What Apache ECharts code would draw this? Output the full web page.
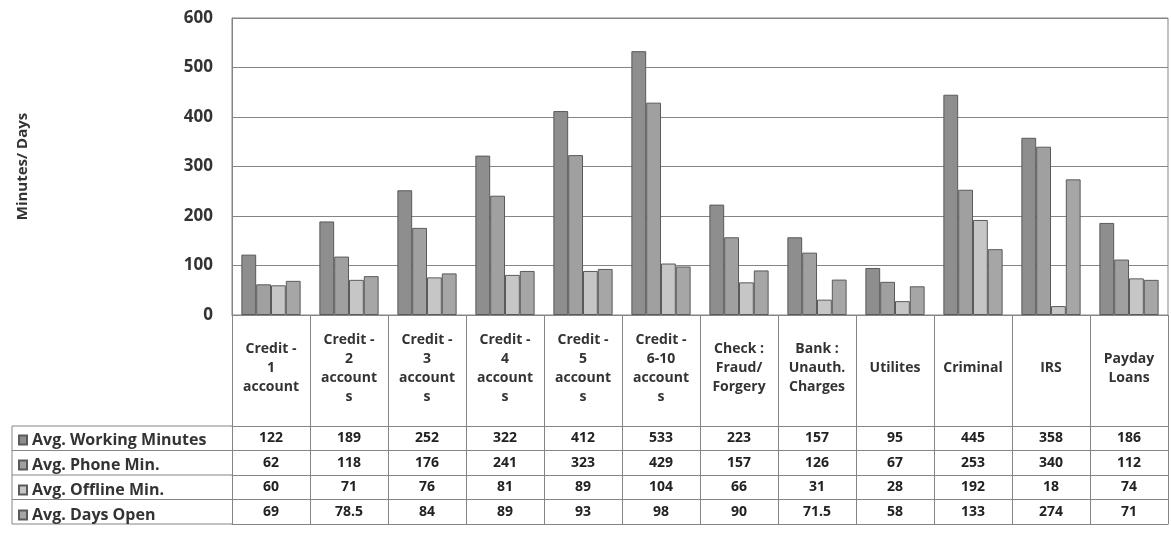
<!DOCTYPE html>
<html>
<head>
<meta charset="utf-8">
<script src="https://cdn.jsdelivr.net/npm/echarts@6/dist/echarts.min.js"></script>
<style>html,body{margin:0;padding:0;background:#fff}#c{width:1171px;height:551px}</style>
</head>
<body>
<div id="c"></div>
<script>
// ---- data ----
var categories = ["Credit -\n1\naccount", "Credit -\n2\naccount\ns", "Credit -\n3\naccount\ns", "Credit -\n4\naccount\ns", "Credit -\n5\naccount\ns", "Credit -\n6-10\naccount\ns", "Check :\nFraud/\nForgery", "Bank :\nUnauth.\nCharges", "Utilites", "Criminal", "IRS", "Payday\nLoans"];
var seriesNames = ["Avg. Working Minutes", "Avg. Phone Min.", "Avg. Offline Min.", "Avg. Days Open"];
var workingMin = [122, 189, 252, 322, 412, 533, 223, 157, 95, 445, 358, 186];
var phoneMin = [62, 118, 176, 241, 323, 429, 157, 126, 67, 253, 340, 112];
var offlineMin = [60, 71, 76, 81, 89, 104, 66, 31, 28, 192, 18, 74];
var daysOpen = [69, 78.5, 84, 89, 93, 98, 90, 71.5, 58, 133, 274, 71];
var yTicks = [0, 100, 200, 300, 400, 500, 600];

// ---- layout ----
var W = 1171, H = 551;
var gLeft = 232, gRight = 3, gTop = 18, gBottomY = 315;
var headerBottom = 426, rowH = 24.5, tableLeft = 12;
var font = 'Open Sans';
var lineCol = '#858585';
var colors = ['#8e8e8e', '#a0a0a0', '#c6c6c6', '#a6a6a6'];
var allSeries = [workingMin, phoneMin, offlineMin, daysOpen];

var xAxes = [{
  type: 'category', data: categories, gridIndex: 0, position: 'bottom',
  axisLine: {show: true, lineStyle: {color: lineCol}},
  axisTick: {show: true, interval: 0, length: headerBottom + rowH * 4 - gBottomY, lineStyle: {color: lineCol}},
  axisLabel: {interval: 0, margin: (headerBottom - gBottomY) / 2 - 2, verticalAlign: 'middle', align: 'center',
    fontFamily: font, fontWeight: 'bold', fontSize: 14, color: '#333', lineHeight: 19}
}];
for (var r = 0; r <= 4; r++) {
  xAxes.push({
    type: 'category', gridIndex: 0, position: 'bottom',
    offset: headerBottom - gBottomY + rowH * r,
    data: r < 4 ? allSeries[r].map(String) : categories.map(function(){return '';}),
    axisLine: {show: true, lineStyle: {color: lineCol}},
    axisTick: {show: false},
    axisLabel: {show: r < 4, interval: 0, margin: rowH / 2, verticalAlign: 'middle',
      fontFamily: font, fontWeight: 'bold', fontSize: 14, color: '#222'}
  });
}

var series = seriesNames.map(function(n, i) {
  return {
    name: n, type: 'bar', xAxisIndex: 0, yAxisIndex: 0,
    data: allSeries[i], barGap: '0%', barCategoryGap: '24%',
    itemStyle: {color: colors[i], borderColor: '#5a5a5a', borderWidth: 1}
  };
});

var graphics = [];
for (var k = 0; k <= 4; k++) {
  var y = headerBottom + rowH * k;
  graphics.push({type: 'line', shape: {x1: tableLeft, y1: y, x2: gLeft, y2: y}, style: {stroke: lineCol, lineWidth: 1}});
}
graphics.push({type: 'line', shape: {x1: tableLeft, y1: headerBottom, x2: tableLeft, y2: headerBottom + rowH * 4}, style: {stroke: lineCol, lineWidth: 1}});

var chart = echarts.init(document.getElementById('c'), null, {renderer: 'canvas'});
chart.setOption({
  backgroundColor: '#fff',
  animation: false,
  grid: {left: gLeft, right: gRight, top: gTop, bottom: H - gBottomY, show: true, borderColor: lineCol, borderWidth: 1},
  legend: {
    orient: 'vertical', left: tableLeft + 1, top: headerBottom + 1,
    itemWidth: 8, itemHeight: 9, itemGap: 9, icon: 'rect',
    data: seriesNames,
    textStyle: {fontFamily: font, fontWeight: 'bold', fontSize: 16, color: '#333', lineHeight: 14}
  },
  xAxis: xAxes,
  yAxis: {
    type: 'value', min: yTicks[0], max: yTicks[yTicks.length - 1], interval: 100,
    name: 'Minutes/ Days', nameLocation: 'middle', nameRotate: 90, nameGap: gLeft - 30,
    nameTextStyle: {fontFamily: font, fontWeight: 'bold', fontSize: 15, color: '#333'},
    axisLine: {show: true, lineStyle: {color: lineCol}},
    axisTick: {show: false},
    axisLabel: {margin: 19, fontFamily: font, fontWeight: 'bold', fontSize: 17, color: '#333'},
    splitLine: {show: true, lineStyle: {color: lineCol, width: 1}}
  },
  series: series,
  graphic: graphics
});
</script>
</body>
</html>
